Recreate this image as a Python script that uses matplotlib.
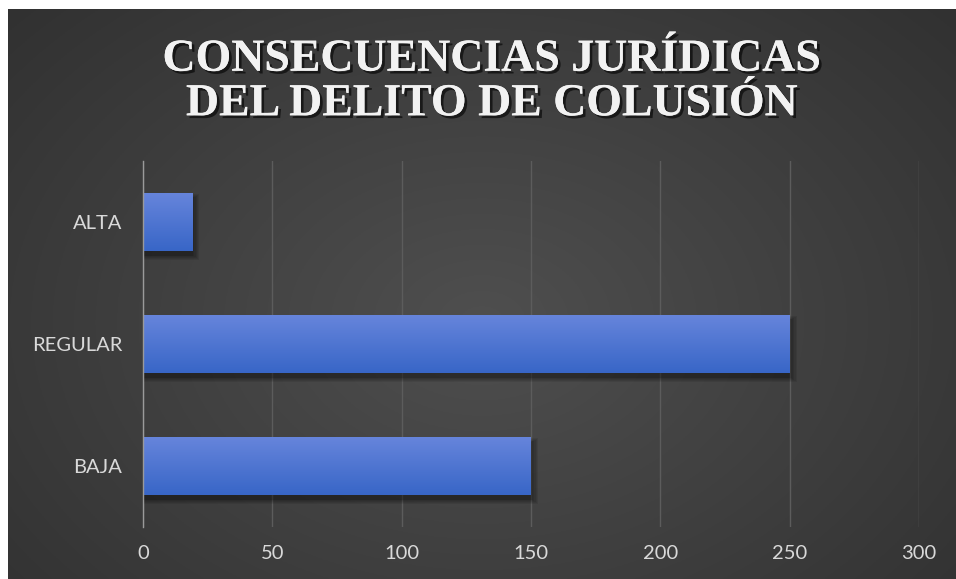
import numpy as np
import matplotlib
matplotlib.use("Agg")
import matplotlib.pyplot as plt
import matplotlib.patheffects as pe

categories = ["BAJA", "REGULAR", "ALTA"]
values = [150, 250, 19]
xticks = [0, 50, 100, 150, 200, 250, 300]
title = "CONSECUENCIAS JURÍDICAS\nDEL DELITO DE COLUSIÓN"

W, H = 956, 579
fig = plt.figure(figsize=(W / 100, H / 100), dpi=100)
fig.patch.set_facecolor("white")

# background with radial gradient
bg = fig.add_axes([8 / W, 0, 1 - 8 / W, 1 - 9 / H])
yy, xx = np.mgrid[0:1:300j, 0:1:500j]
r = np.sqrt(((xx - 0.5) / 0.75) ** 2 + ((yy - 0.45) / 0.9) ** 2)
shade = 0.31 - 0.13 * np.clip(r, 0, 1.2)
bg.imshow(np.dstack([shade, shade, shade]), aspect="auto", extent=[0, 1, 0, 1], origin="lower")
bg.set_axis_off()

ax = fig.add_axes([143 / W, 1 - 527 / H, (919 - 143) / W, (527 - 161) / H])
ax.set_facecolor("none")
ypos = np.arange(len(categories))
bh = 0.47

# soft shadows
for k in range(6):
    grow = 0.013 * k
    ax.barh(ypos - 0.04, [v + 0.3 + 0.5 * k for v in values], height=bh + grow, left=0,
            color="black", alpha=0.08, zorder=2, linewidth=0)
bars = ax.barh(ypos, values, height=bh, color="#4472c4", zorder=3, linewidth=0)

# gradient fill inside bars
grad = np.linspace(0, 1, 100).reshape(-1, 1)
top = np.array([0.40, 0.52, 0.86])
bot = np.array([0.22, 0.40, 0.78])
img = (bot[None, None, :] * (1 - grad[:, :, None]) + top[None, None, :] * grad[:, :, None])
for b in bars:
    x0, y0 = b.get_x(), b.get_y()
    im = ax.imshow(img, extent=[x0, x0 + b.get_width(), y0, y0 + b.get_height()],
                   origin="lower", aspect="auto", zorder=4)
    im.set_clip_path(b)

ax.set_xlim(0, 300)
ax.set_ylim(-0.5, len(categories) - 0.5)
ax.set_xticks(xticks)
ax.set_xticklabels([str(t) for t in xticks])
ax.set_yticks(ypos)
ax.set_yticklabels(categories)
ax.grid(axis="x", color="#5c5c5c", linewidth=1.0, zorder=1)
ax.set_axisbelow(True)
for s in ["top", "right", "bottom"]:
    ax.spines[s].set_visible(False)
ax.spines["left"].set_color("#9a9a9a")
ax.spines["left"].set_linewidth(1.0)
ax.spines["left"].set_zorder(5)
ax.tick_params(axis="both", length=0, colors="#d9d9d9", labelsize=14.5)
ax.tick_params(axis="y", pad=15)
ax.tick_params(axis="x", pad=13)
for lab in ax.get_xticklabels() + ax.get_yticklabels():
    lab.set_fontfamily("Lato")

fig.text(492 / W, 1 - 82 / H, title, ha="center", va="center", color="#f2f2f2",
         fontsize=33, fontweight="bold", family="Liberation Serif",
         linespacing=1.08,
         path_effects=[pe.withSimplePatchShadow(offset=(2, -2), shadow_rgbFace="black", alpha=0.6),
                       pe.Normal()])

fig.savefig("out.png", dpi=100, facecolor="white")
